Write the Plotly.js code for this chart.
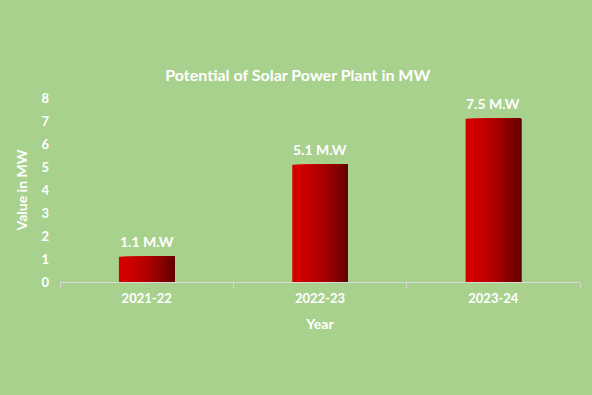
<!DOCTYPE html>
<html>
<head>
<meta charset="utf-8">
<script src="https://cdn.plot.ly/plotly-3.0.1.min.js"></script>
<style>html,body{margin:0;padding:0;background:#a9d18e;}#chart{width:592px;height:395px;}</style>
</head>
<body>
<div id="chart"></div>
<script>
// Data
const years = ["2021-22", "2022-23", "2023-24"];
const values = [1.1, 5.1, 7.1];
const labels = ["1.1 M.W", "5.1 M.W", "7.5 M.W"];

// Gradient bars built as layered slices of the same bars
const N = 24;
const barWidth = 0.32;
const c0 = [212, 0, 0], c1 = [100, 0, 0];
function sliceColor(t) {
  const e = Math.pow(t, 1.6);
  const c = c0.map((v, k) => Math.round(v + (c1[k] - v) * e));
  return `rgb(${c[0]},${c[1]},${c[2]})`;
}
const traces = [];
for (let i = 0; i < N; i++) {
  traces.push({
    type: "bar",
    x: years,
    y: values,
    width: barWidth - i * barWidth / N,
    offset: -barWidth / 2 + i * barWidth / N,
    marker: { color: sliceColor(i / (N - 1)), line: { width: 0 } },
    hoverinfo: "skip",
    showlegend: false
  });
}

const FONT = "Lato, 'Open Sans', sans-serif";
const annotations = years.map((yr, i) => ({
  x: yr, y: values[i], text: "<b>" + labels[i] + "</b>", showarrow: false,
  yanchor: "bottom", yshift: 5,
  font: { family: FONT, size: 14, color: "#ffffff" }
}));

const layout = {
  width: 592, height: 395,
  paper_bgcolor: "#a9d18e", plot_bgcolor: "#a9d18e",
  margin: { l: 60, r: 12, t: 98, b: 113 },
  barmode: "overlay",
  title: {
    text: "<b>Potential of Solar Power Plant in MW</b>",
    font: { family: FONT, size: 16, color: "#ffffff" },
    x: 0.503, xanchor: "center", y: 0.808, yanchor: "middle"
  },
  xaxis: {
    type: "category",
    tickson: "boundaries",
    ticks: "outside", ticklen: 5, tickcolor: "#d9d9d9", tickwidth: 1,
    showline: true, linecolor: "#d9d9d9", linewidth: 1,
    showgrid: false, zeroline: false,
    ticklabelstandoff: 4,
    tickfont: { family: FONT, size: 13, color: "#ffffff", weight: "bold" },
    title: { text: "<b>Year</b>", standoff: 14,
      font: { family: FONT, size: 14, color: "#ffffff" } }
  },
  yaxis: {
    range: [0, 8], dtick: 1,
    showgrid: false, zeroline: false, showline: false, ticks: "",
    ticklabelstandoff: 10,
    tickfont: { family: FONT, size: 13, color: "#ffffff", weight: "bold" },
    title: { text: "<b>Value in MW</b>", standoff: 10,
      font: { family: FONT, size: 14, color: "#ffffff" } }
  },
  annotations: annotations
};

Plotly.newPlot("chart", traces, layout, { displayModeBar: false, staticPlot: true });
</script>
</body>
</html>
